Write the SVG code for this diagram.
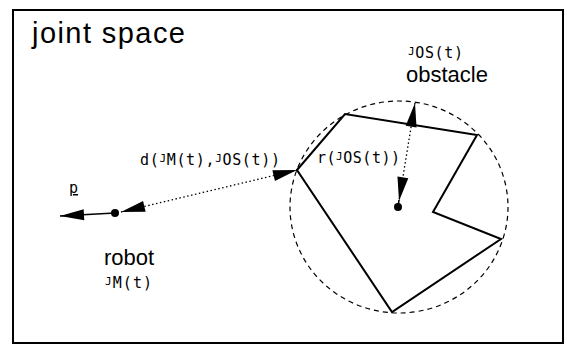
<svg xmlns="http://www.w3.org/2000/svg" width="567" height="345" viewBox="0 0 567 345">
  <style>
    .big { font-family: "Liberation Sans", Arial, sans-serif; fill: #000; }
    .mono { font-family: "DejaVu Sans Mono", "Liberation Mono", monospace; font-size: 15px; fill: #000; }
    .sup { font-size: 11px; }
    .dotted { fill: none; stroke: #000; stroke-width: 1.3; stroke-dasharray: 1.5 2.5; }
    .solid { fill: none; stroke: #000; stroke-width: 1.6; }
  </style>
  <defs>
    <marker id="head" markerUnits="userSpaceOnUse" markerWidth="26" markerHeight="12" refX="24" refY="5.5" orient="auto-start-reverse" overflow="visible">
      <path d="M0,0 L24,5.5 L0,11 Z" fill="#000"/>
    </marker>
  </defs>
  <rect width="567" height="345" fill="#fff"/>
  <g id="frame">
    <rect x="13" y="10" width="550" height="333" fill="none" stroke="#000" stroke-width="2"/>
    <text class="big" x="32" y="43" font-size="29" textLength="153" lengthAdjust="spacing">joint space</text>
  </g>
  <g id="obstacle">
    <ellipse cx="399" cy="207" rx="109" ry="106" fill="none" stroke="#000" stroke-width="1.2" stroke-dasharray="5 4"/>
    <polygon points="297,170 345,114 477,135 433,212 501,239 392,312" fill="none" stroke="#000" stroke-width="2" stroke-linejoin="miter"/>
    <circle cx="398" cy="207" r="4" fill="#000"/>
    <text class="mono" x="408" y="58" textLength="55" lengthAdjust="spacing"><tspan class="sup" dy="-3">J</tspan><tspan dy="3">OS(t)</tspan></text>
    <text class="big" x="406" y="82" font-size="22">obstacle</text>
  </g>
  <g id="robot">
    <circle cx="115" cy="213" r="4" fill="#000"/>
    <text class="big" x="104" y="265" font-size="22">robot</text>
    <text class="mono" x="105" y="288" textLength="47" lengthAdjust="spacing"><tspan class="sup" dy="-3">J</tspan><tspan dy="3">M(t)</tspan></text>
  </g>
  <g id="connectors">
    <path class="solid" d="M115,213 L60,216" marker-end="url(#head)"/>
    <text class="mono" x="69" y="193" text-decoration="underline">p</text>
    <path class="dotted" d="M121,212 L297,170" marker-start="url(#head)" marker-end="url(#head)"/>
    <text class="mono" x="140" y="165" textLength="140" lengthAdjust="spacing"><tspan>d(</tspan><tspan class="sup" dy="-3">J</tspan><tspan dy="3">M(t),</tspan><tspan class="sup" dy="-3">J</tspan><tspan dy="3">OS(t))</tspan></text>
    <path class="dotted" d="M415,103 L399,201" marker-start="url(#head)" marker-end="url(#head)"/>
    <path class="solid" d="M399,200 L398,207"/>
    <text class="mono" x="317" y="163" textLength="83" lengthAdjust="spacing"><tspan>r(</tspan><tspan class="sup" dy="-3">J</tspan><tspan dy="3">OS(t))</tspan></text>
  </g>
</svg>
